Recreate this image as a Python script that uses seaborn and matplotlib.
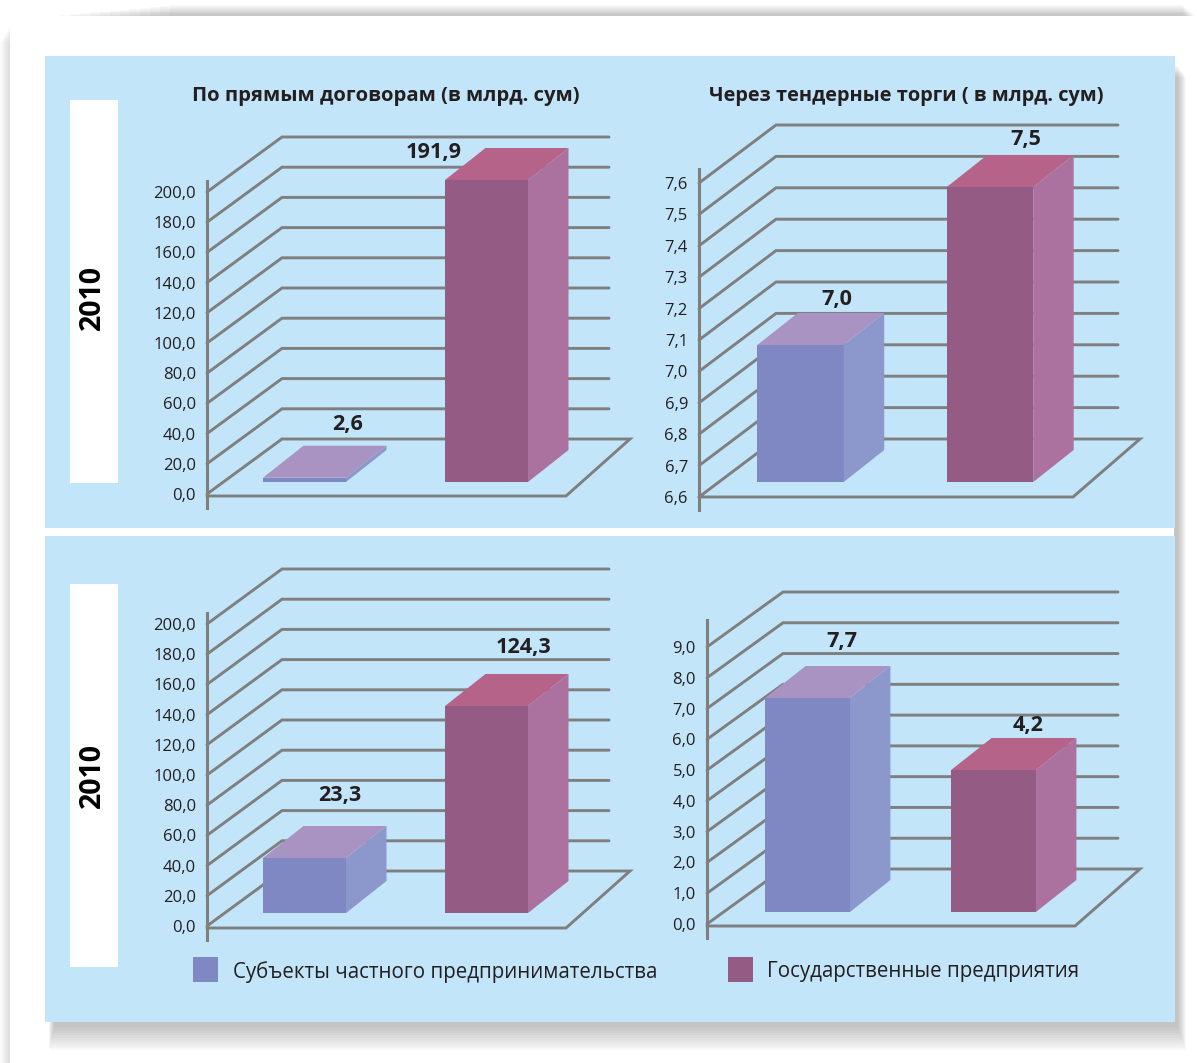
import matplotlib
matplotlib.use("Agg")
import matplotlib.pyplot as plt
from matplotlib.patches import Rectangle, Polygon
from matplotlib.transforms import ScaledTranslation
import pandas as pd
import seaborn as sns

categories = ["Субъекты частного предпринимательства", "Государственные предприятия"]
values_direct_a = [2.6, 191.9]
values_tender_a = [7.0, 7.5]
values_direct_b = [23.3, 124.3]
values_tender_b = [7.7, 4.2]
ticks_direct = [0, 20, 40, 60, 80, 100, 120, 140, 160, 180, 200]
ticks_tender_a = [6.6, 6.7, 6.8, 6.9, 7.0, 7.1, 7.2, 7.3, 7.4, 7.5, 7.6]
ticks_tender_b = [0, 1, 2, 3, 4, 5, 6, 7, 8, 9]
titles = ["По прямым договорам (в млрд. сум)", "Через тендерные торги ( в млрд. сум)"]
year_label = "2010"

W, H = 1197, 1063
BLUE_BG = "#C3E5F9"
GRID = "#7F7F7F"
INK = "#231F20"
FRONT = ["#7F88C3", "#945C85"]
SIDE = ["#8C97CB", "#AB72A0"]
TOP = ["#A993C3", "#B56388"]
BAR_WIDTH = 0.456

sns.set_theme(style="white")
plt.rcParams["font.family"] = ["Open Sans", "DejaVu Sans"]

fig = plt.figure(figsize=(W / 100, H / 100), dpi=100, facecolor="white")


def px_axes(left, top, right, bottom):
    """Axes placed by pixel edges, measured from the top-left of the canvas."""
    return fig.add_axes([left / W, 1 - bottom / H, (right - left) / W, (bottom - top) / H])


# Page, soft drop shadows and coloured panels
bg = fig.add_axes([0, 0, 1, 1])
bg.set_xlim(0, W)
bg.set_ylim(H, 0)
bg.axis("off")
for i in range(1, 13):
    bg.add_patch(Rectangle((10 - i * 0.8, 24 + i * 1.5), 14, H, color="#666666", alpha=0.016, lw=0))
    bg.add_patch(Rectangle((50 + i * 10, 16 - i * 0.9), 1145 - i * 11, 10, color="#555555", alpha=0.032, lw=0))
bg.add_patch(Rectangle((10, 16), W - 10, H - 16, color="white", lw=0))
for g in range(12):
    bg.add_patch(Rectangle((54 - g * 0.5, 66 + g), 1124 + g * 1.2, 961 + g * 1.1,
                           color="#555555", alpha=0.03, lw=0))
bg.add_patch(Rectangle((45, 56), 1130, 472, color=BLUE_BG, lw=0))
bg.add_patch(Rectangle((45, 536), 1130, 486, color=BLUE_BG, lw=0))
bg.add_patch(Rectangle((45, 528), 1129, 8, color="white", lw=0))
bg.add_patch(Rectangle((70, 100), 48, 383, color="white", lw=0))
bg.add_patch(Rectangle((70, 584), 48, 383, color="white", lw=0))

for y_mid in (297, 776):
    bg.text(92, y_mid, year_label, rotation=90, ha="center", va="center",
            fontsize=20.5, fontweight="bold", color="black")
bg.text(386, 96, titles[0], ha="center", va="center", fontsize=14.6, fontweight="bold", color=INK)
bg.text(906, 96, titles[1], ha="center", va="center", fontsize=14.4, fontweight="bold", color=INK)

# Legend row
for x_sw, x_txt, name, col in zip((193, 728), (233, 767), categories, FRONT):
    bg.add_patch(Rectangle((x_sw, 957), 25, 25, color=col, lw=0))
    bg.text(x_txt, 972, name, ha="left", va="center", fontsize=14.8, color=INK)


def chart(values, ticks, fmt, axis_x, axis_top, axis_bottom, y0_front, y_top_front,
          floor_front_y, depth, back_right, floor_right, corner_x,
          centers, base_y, top_px, label_offsets):
    """One pseudo-3D column chart: wall and floor on one axes, columns on a second."""
    t0, t1 = ticks[0], ticks[-1]
    per_unit = (y0_front - y_top_front) / (t1 - t0)
    ax = px_axes(axis_x, axis_top, corner_x + 2, axis_bottom)
    ax.set_xlim(0, corner_x + 2 - axis_x)
    ax.set_ylim(t0 - (axis_bottom - y0_front) / per_unit, t0 + (y0_front - axis_top) / per_unit)
    ax.patch.set_visible(False)
    for name in ("top", "right", "bottom"):
        ax.spines[name].set_visible(False)
    ax.spines["left"].set_color(GRID)
    ax.spines["left"].set_linewidth(2.2)
    ax.set_xticks([])
    ax.set_yticks(ticks)
    ax.set_yticklabels([fmt.format(t).replace(".", ",") for t in ticks], fontsize=12, color=INK,
                       va="center")
    ax.tick_params(axis="y", length=0, pad=8, left=False)
    nudge = ScaledTranslation(0, -2.0 / 100, fig.dpi_scale_trans)
    for lab in ax.get_yticklabels():
        lab.set_transform(lab.get_transform() + nudge)

    ddx, ddy = depth[0], depth[1] / per_unit
    line = dict(color=GRID, lw=2.1, solid_capstyle="round", solid_joinstyle="miter", clip_on=False)
    for t in ticks[1:]:
        ax.plot([0, ddx, back_right - axis_x], [t, t + ddy, t + ddy], **line)
    floor_y = t0 - (floor_front_y - y0_front) / per_unit
    ax.plot([0, ddx, corner_x - axis_x, floor_right - axis_x, 0],
            [t0, t0 + ddy, t0 + ddy, floor_y, floor_y], **line)

    # Columns: the scale of this axes comes from the two column tops
    bar_scale = (top_px[0] - top_px[1]) / (values[1] - values[0])
    floor_val = values[0] - (base_y - top_px[0]) / bar_scale
    bax = px_axes(axis_x, axis_top - 40, corner_x + 2, base_y)
    spacing = centers[1] - centers[0]
    frame = pd.DataFrame({"category": categories, "value": values})
    sns.barplot(data=frame, x="category", y="value", hue="category", hue_order=categories,
                order=categories, palette=FRONT, width=BAR_WIDTH, saturation=1,
                legend=False, ax=bax, linewidth=0)
    bax.set_xlim((axis_x - centers[0]) / spacing, (corner_x + 2 - centers[0]) / spacing)
    bax.set_ylim(floor_val, floor_val + (base_y - axis_top + 40) / bar_scale)
    bax.axis("off")
    ox, oy = 40.5 / spacing, 32 / bar_scale
    for k, (patch, val) in enumerate(zip(bax.patches, values)):
        x, w = patch.get_x(), patch.get_width()
        patch.set_y(floor_val)
        patch.set_height(val - floor_val)
        bax.add_patch(Polygon([(x + w, floor_val), (x + w + ox, floor_val + oy),
                               (x + w + ox, val + oy), (x + w, val)],
                              facecolor=SIDE[k], edgecolor="none", clip_on=False))
        bax.add_patch(Polygon([(x, val), (x + w, val), (x + w + ox, val + oy), (x + ox, val + oy)],
                              facecolor=TOP[k], edgecolor="none", clip_on=False))
        bax.annotate(f"{val:.1f}".replace(".", ","), xy=(k, val),
                     xytext=(label_offsets[k][0] * 0.72, -(label_offsets[k][1] + 1.5) * 0.72),
                     textcoords="offset points", ha="center", va="center",
                     fontsize=15.6, fontweight="bold", color=INK, annotation_clip=False)


chart(values_direct_a, ticks_direct, "{:.1f}", 207, 181, 508, 494, 192, 496, (75, 55),
      609, 566, 630, (304.5, 486.5), 482, (477.7, 180), [(43, -55), (-53, -29)])
chart(values_tender_a, ticks_tender_a, "{:.1f}", 699, 169, 510, 497, 183, 497, (77, 58),
      1118, 1073, 1140, (800.5, 990), 482, (345, 187), [(36, -47), (36, -49)])
chart(values_direct_b, ticks_direct, "{:.1f}", 207, 613, 940, 926, 624, 928, (75, 55),
      609, 566, 630, (304.5, 486.5), 913, (858, 706), [(35, -64), (37, -60)])
chart(values_tender_b, ticks_tender_b, "{:.1f}", 707, 620, 938, 924, 647, 926, (76, 55),
      1118, 1075, 1140, (807.5, 993.5), 912, (698, 770), [(34, -58), (35, -46)])

fig.savefig("out.png", dpi=100, facecolor="white")
